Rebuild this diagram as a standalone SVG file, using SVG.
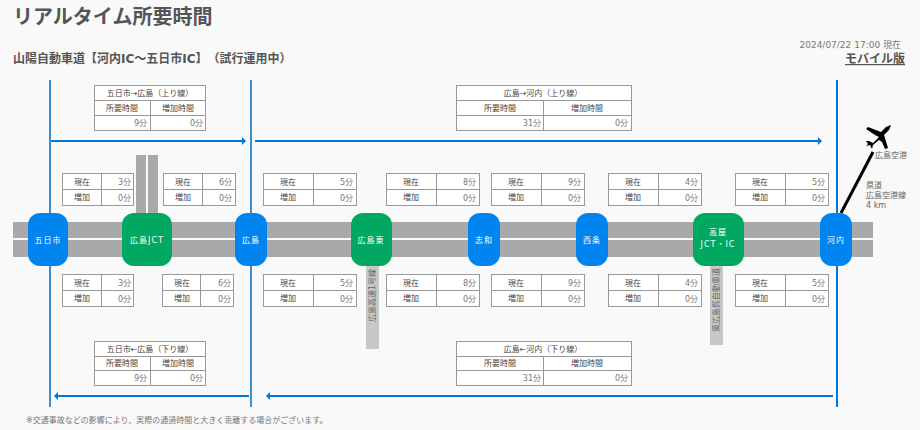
<svg xmlns="http://www.w3.org/2000/svg" width="920" height="430" viewBox="0 0 920 430">
<style>
text{font-family:"DejaVu Sans","Noto Sans CJK JP",sans-serif;fill:#555;text-spacing-trim:space-all}
.t{font-size:8px;text-anchor:middle;fill:#444}
.v{font-size:8px;text-anchor:end;fill:#777}
.box{fill:#fff;stroke:#999;stroke-width:1}
.g{stroke:#999;stroke-width:1;fill:none}
.road{fill:#a9a9a9}
.side{fill:#c8c8c8}
.ic{fill:#0084f0}
.jct{fill:#00a862}
.n{font-size:8px;text-anchor:middle;fill:#fff;letter-spacing:1px}
.s{font-size:8px;fill:#666}
.ln{stroke:#0078dc;stroke-width:2;fill:none}
.vl{stroke:#3a8fd0;stroke-width:2;fill:none}
</style>
<defs>
<marker id="ah" markerWidth="6" markerHeight="8" refX="1" refY="4" orient="auto-start-reverse" markerUnits="userSpaceOnUse"><path d="M0 0L4 4L0 8Z" fill="#0078dc"/></marker>
</defs>
<rect width="920" height="430" fill="#f9f9f9"/>
<text x="13" y="24" font-size="20" font-weight="700">リアルタイム所要時間</text>
<text x="13" y="63" font-size="12" font-weight="700">山陽自動車道【河内IC～五日市IC】（試行運用中）</text>
<text x="901" y="48" font-size="9" text-anchor="end" style="fill:#777">2024/07/22 17:00 現在</text>
<text x="905" y="63" font-size="12" font-weight="700" text-anchor="end" text-decoration="underline">モバイル版</text>
<rect class="road" x="13" y="222" width="860" height="16"/>
<rect class="road" x="13" y="240" width="860" height="17"/>
<rect class="road" x="136" y="155" width="10" height="60"/>
<rect class="road" x="148" y="155" width="10" height="60"/>
<rect class="side" x="366" y="266" width="13" height="83"/>
<rect class="side" x="710" y="266" width="13" height="79"/>
<text class="s" transform="translate(375,322) rotate(-90)">広島高速1号線</text>
<text class="s" transform="translate(719,332) rotate(-90)">東広島呉自動車道</text>
<g id="connectors">
<path class="vl" d="M50 80V407M251 80V407"/>
<path class="ln" d="M837 80V407"/>
<path class="ln" marker-end="url(#ah)" d="M51 141H243"/>
<path class="ln" marker-end="url(#ah)" d="M255 141H819"/>
<path class="ln" marker-end="url(#ah)" d="M249 396H57"/>
<path class="ln" marker-end="url(#ah)" d="M833 396H269"/>
<path d="M841 213L873 152" stroke="#000" stroke-width="3" fill="none"/>
</g>
<g id="sum-up-west"><rect class="box" x="94.500" y="85.500" width="111" height="45"/><path class="g" d="M94.500 100.500H205.500M94.500 115.500H205.500M150.500 100.500V130.500"/><text class="t" x="150" y="96">五日市→広島（上り線）</text><text class="t" x="122" y="111">所要時間</text><text class="t" x="178" y="111">増加時間</text><text class="v" x="147" y="126">9分</text><text class="v" x="203" y="126">0分</text></g>
<g id="sum-up-east"><rect class="box" x="456.500" y="85.500" width="175" height="45"/><path class="g" d="M456.500 100.500H631.500M456.500 115.500H631.500M543.500 100.500V130.500"/><text class="t" x="543" y="96">広島→河内（上り線）</text><text class="t" x="500" y="111">所要時間</text><text class="t" x="587" y="111">増加時間</text><text class="v" x="541" y="126">31分</text><text class="v" x="628" y="126">0分</text></g>
<g id="sum-down-west"><rect class="box" x="94.500" y="341.500" width="111" height="44"/><path class="g" d="M94.500 356.500H205.500M94.500 370.500H205.500M150.500 356.500V385.500"/><text class="t" x="150" y="352">五日市←広島（下り線）</text><text class="t" x="122" y="366">所要時間</text><text class="t" x="178" y="366">増加時間</text><text class="v" x="147" y="381">9分</text><text class="v" x="203" y="381">0分</text></g>
<g id="sum-down-east"><rect class="box" x="456.500" y="341.500" width="175" height="44"/><path class="g" d="M456.500 356.500H631.500M456.500 370.500H631.500M543.500 356.500V385.500"/><text class="t" x="543" y="352">広島←河内（下り線）</text><text class="t" x="500" y="366">所要時間</text><text class="t" x="587" y="366">増加時間</text><text class="v" x="541" y="381">31分</text><text class="v" x="628" y="381">0分</text></g>
<g id="up-1"><rect class="box" x="62.500" y="173.500" width="71" height="32"/><path class="g" d="M62.500 189.500H133.500M101.500 173.500V205.500"/><text class="t" x="82" y="185">現在</text><text class="t" x="82" y="200">増加</text><text class="v" x="131" y="185">3分</text><text class="v" x="131" y="201">0分</text></g>
<g id="up-2"><rect class="box" x="163.500" y="173.500" width="72" height="32"/><path class="g" d="M163.500 189.500H235.500M202.500 173.500V205.500"/><text class="t" x="183" y="185">現在</text><text class="t" x="183" y="200">増加</text><text class="v" x="232" y="185">6分</text><text class="v" x="232" y="201">0分</text></g>
<g id="up-3"><rect class="box" x="263.500" y="173.500" width="93" height="32"/><path class="g" d="M263.500 189.500H356.500M313.500 173.500V205.500"/><text class="t" x="288" y="185">現在</text><text class="t" x="288" y="200">増加</text><text class="v" x="353" y="185">5分</text><text class="v" x="353" y="201">0分</text></g>
<g id="up-4"><rect class="box" x="386.500" y="173.500" width="93" height="32"/><path class="g" d="M386.500 189.500H479.500M436.500 173.500V205.500"/><text class="t" x="411" y="185">現在</text><text class="t" x="411" y="200">増加</text><text class="v" x="476" y="185">8分</text><text class="v" x="476" y="201">0分</text></g>
<g id="up-5"><rect class="box" x="491.500" y="173.500" width="93" height="32"/><path class="g" d="M491.500 189.500H584.500M541.500 173.500V205.500"/><text class="t" x="516" y="185">現在</text><text class="t" x="516" y="200">増加</text><text class="v" x="581" y="185">9分</text><text class="v" x="581" y="201">0分</text></g>
<g id="up-6"><rect class="box" x="608.500" y="173.500" width="93" height="32"/><path class="g" d="M608.500 189.500H701.500M658.500 173.500V205.500"/><text class="t" x="633" y="185">現在</text><text class="t" x="633" y="200">増加</text><text class="v" x="698" y="185">4分</text><text class="v" x="698" y="201">0分</text></g>
<g id="up-7"><rect class="box" x="735.500" y="173.500" width="93" height="32"/><path class="g" d="M735.500 189.500H828.500M785.500 173.500V205.500"/><text class="t" x="760" y="185">現在</text><text class="t" x="760" y="200">増加</text><text class="v" x="825" y="185">5分</text><text class="v" x="825" y="201">0分</text></g>
<g id="dn-1"><rect class="box" x="62.500" y="274.500" width="71" height="32"/><path class="g" d="M62.500 290.500H133.500M101.500 274.500V306.500"/><text class="t" x="82" y="286">現在</text><text class="t" x="82" y="301">増加</text><text class="v" x="131" y="286">3分</text><text class="v" x="131" y="302">0分</text></g>
<g id="dn-2"><rect class="box" x="162.500" y="274.500" width="71" height="32"/><path class="g" d="M162.500 290.500H233.500M200.500 274.500V306.500"/><text class="t" x="182" y="286">現在</text><text class="t" x="182" y="301">増加</text><text class="v" x="231" y="286">6分</text><text class="v" x="231" y="302">0分</text></g>
<g id="dn-3"><rect class="box" x="263.500" y="274.500" width="93" height="32"/><path class="g" d="M263.500 290.500H356.500M313.500 274.500V306.500"/><text class="t" x="288" y="286">現在</text><text class="t" x="288" y="301">増加</text><text class="v" x="353" y="286">5分</text><text class="v" x="353" y="302">0分</text></g>
<g id="dn-4"><rect class="box" x="386.500" y="274.500" width="93" height="32"/><path class="g" d="M386.500 290.500H479.500M436.500 274.500V306.500"/><text class="t" x="411" y="286">現在</text><text class="t" x="411" y="301">増加</text><text class="v" x="476" y="286">8分</text><text class="v" x="476" y="302">0分</text></g>
<g id="dn-5"><rect class="box" x="491.500" y="274.500" width="93" height="32"/><path class="g" d="M491.500 290.500H584.500M541.500 274.500V306.500"/><text class="t" x="516" y="286">現在</text><text class="t" x="516" y="301">増加</text><text class="v" x="581" y="286">9分</text><text class="v" x="581" y="302">0分</text></g>
<g id="dn-6"><rect class="box" x="608.500" y="274.500" width="93" height="32"/><path class="g" d="M608.500 290.500H701.500M658.500 274.500V306.500"/><text class="t" x="633" y="286">現在</text><text class="t" x="633" y="301">増加</text><text class="v" x="698" y="286">4分</text><text class="v" x="698" y="302">0分</text></g>
<g id="dn-7"><rect class="box" x="735.500" y="274.500" width="93" height="32"/><path class="g" d="M735.500 290.500H828.500M785.500 274.500V306.500"/><text class="t" x="760" y="286">現在</text><text class="t" x="760" y="301">増加</text><text class="v" x="825" y="286">5分</text><text class="v" x="825" y="302">0分</text></g>
<g id="node-itsukaichi"><rect class="ic" x="28" y="213" width="40" height="53" rx="12"/><text class="n" x="48" y="243">五日市</text></g>
<g id="node-hiroshima-jct"><rect class="jct" x="122" y="213" width="50" height="53" rx="12"/><text class="n" x="147" y="243">広島JCT</text></g>
<g id="node-hiroshima"><rect class="ic" x="235" y="213" width="32" height="53" rx="12"/><text class="n" x="251" y="243">広島</text></g>
<g id="node-hiroshima-higashi"><rect class="jct" x="351" y="213" width="41" height="53" rx="12"/><text class="n" x="371" y="243">広島東</text></g>
<g id="node-shiwa"><rect class="ic" x="468" y="213" width="32" height="53" rx="12"/><text class="n" x="484" y="243">志和</text></g>
<g id="node-saijo"><rect class="ic" x="576" y="213" width="32" height="53" rx="12"/><text class="n" x="592" y="243">西条</text></g>
<g id="node-takaya"><rect class="jct" x="693" y="213" width="51" height="53" rx="12"/><text class="n" x="718" y="235">高屋</text><text class="n" x="718" y="247">JCT・IC</text></g>
<g id="node-kawachi"><rect class="ic" x="820" y="213" width="32" height="53" rx="12"/><text class="n" x="836" y="243">河内</text></g>
<g id="airport">
<path d="M891 125L886 127L881 132L868 127L866 129L875 135L879 137L873 143L869 141L866 141L868 144L866 146L870 145L872 149L873 145L879 140L882 142L885 149L888 148L885 138L884 135L889 130Z" fill="#000"/>
<text class="s" x="875" y="158">広島空港</text>
<text class="s" x="866" y="188">県道</text>
<text class="s" x="866" y="198">広島空港線</text>
<text class="s" x="866" y="208">4 km</text>
</g>
<text x="26" y="423" font-size="8" style="fill:#777">※交通事故などの影響により、実際の通過時間と大きく乖離する場合がございます。</text>
</svg>
